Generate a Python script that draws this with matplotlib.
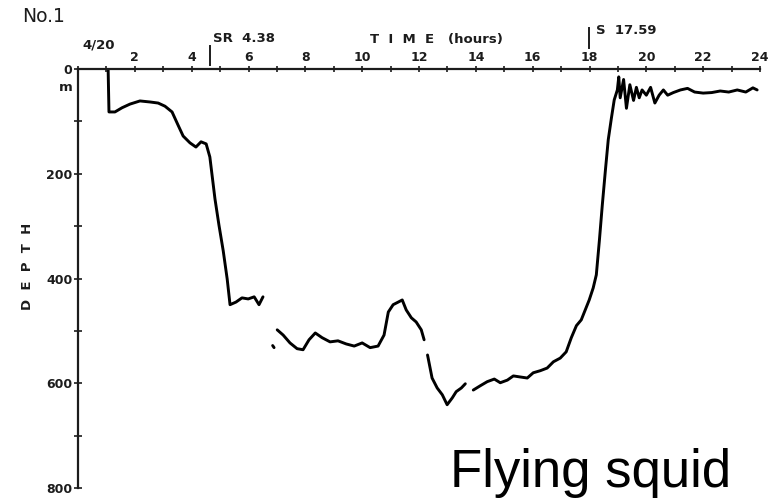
import numpy as np
import matplotlib
matplotlib.use("Agg")
import matplotlib.pyplot as plt

# Depth record of tag No.1 over one day (hours from midnight, depth in metres).
# NaN entries separate stretches where the trace was not recorded.
hours = [
    1.06, 1.09, 1.30, 1.55, 1.83, 2.18, 2.54, 2.82, 3.06, 3.31,
    3.52, 3.70, 3.94, 4.15, 4.33, 4.51, 4.64, 4.82, 4.96, 5.11,
    5.25, 5.35, 5.56, 5.77, 5.99, 6.20, 6.37, 6.51,
    np.nan,
    6.85, 6.90,
    np.nan,
    7.01, 7.22, 7.46, 7.71, 7.92, 8.13, 8.35, 8.59, 8.87, 9.15,
    9.44, 9.72, 10.00, 10.28, 10.56, 10.77, 10.92, 11.09, 11.27, 11.41,
    11.55, 11.73, 11.90, 12.08, 12.18,
    np.nan,
    12.30, 12.46, 12.64, 12.82, 12.99, 13.17, 13.31, 13.49, 13.63,
    np.nan,
    13.91, 14.15, 14.40, 14.65, 14.86, 15.11, 15.32, 15.56, 15.81, 16.02,
    16.27, 16.51, 16.73, 16.97, 17.18, 17.36, 17.54, 17.71, 17.85, 17.99,
    18.13, 18.24, 18.35, 18.45, 18.56, 18.66, 18.77, 18.87, 18.98,
    19.03, 19.08, 19.20, 19.30, 19.42, 19.55, 19.65, 19.75, 19.85, 20.00,
    20.15, 20.30, 20.45, 20.60, 20.75, 20.95, 21.20, 21.45, 21.70, 22.00,
    22.30, 22.60, 22.90, 23.20, 23.50, 23.75, 23.90,
]
depth = [
    0, 82, 82, 74, 67, 61, 63, 65, 71, 82,
    107, 128, 141, 149, 139, 143, 168, 248, 298, 347,
    401, 450, 445, 437, 439, 435, 450, 435,
    np.nan,
    528, 532,
    np.nan,
    498, 508, 523, 534, 536, 517, 504, 513, 521, 519,
    525, 529, 523, 532, 529, 508, 464, 450, 445, 441,
    460, 475, 483, 498, 517,
    np.nan,
    546, 590, 609, 622, 641, 628, 616, 609, 601,
    np.nan,
    613, 605, 597, 592, 599, 594, 586, 588, 590, 580,
    576, 571, 559, 552, 540, 513, 490, 479, 460, 441,
    418, 393, 326, 260, 193, 135, 94, 59, 40,
    15, 55, 20, 75, 30, 60, 35, 55, 40, 50,
    35, 65, 50, 40, 50, 45, 40, 37, 44, 46,
    45, 42, 44, 40, 44, 36, 40,
]

hour_ticks = list(range(0, 25))
hour_labels = [str(h) if (h % 2 == 0 and h > 0) else "" for h in hour_ticks]
depth_major = [0, 200, 400, 600, 800]
depth_labels = ["0", "200", "400", "600", "800"]
depth_minor = [100, 300, 500, 700]

sunrise = 4 + 38 / 60
sunset = 17 + 59 / 60

W, H = 777, 499
fig = plt.figure(figsize=(W / 100, H / 100), dpi=100)
fig.patch.set_facecolor("white")

def fx(px):
    return px / W

def fy(py):
    return 1 - py / H

ax = fig.add_axes([fx(78), fy(488), fx(760) - fx(78), fy(69) - fy(488)])
ax.set_xlim(0, 24)
ax.set_ylim(800, 0)

ink = "#1c1c1c"
ax.plot(hours, depth, color="black", lw=2.1, solid_joinstyle="round",
        solid_capstyle="round")

for s in ("right", "bottom"):
    ax.spines[s].set_visible(False)
for s in ("left", "top"):
    ax.spines[s].set_color(ink)
    ax.spines[s].set_linewidth(1.6)

ax.xaxis.tick_top()
ax.set_xticks(hour_ticks)
ax.set_xticklabels(hour_labels)
ax.tick_params(axis="x", direction="inout", length=5, width=1.2, pad=1,
               labelsize=9, colors=ink)

ax.set_yticks(depth_major)
ax.set_yticklabels(depth_labels)
ax.set_yticks(depth_minor, minor=True)
ax.tick_params(axis="y", which="both", direction="inout", length=6, width=1.2,
               pad=1, labelsize=9, colors=ink)
for lbl in ax.get_xticklabels() + ax.get_yticklabels():
    lbl.set_fontweight("bold")

# sunrise / sunset markers above the time axis
ax.plot([sunrise, sunrise], [-44, -8], color=ink, lw=1.4, clip_on=False)
ax.plot([sunset, sunset], [-78, -40], color=ink, lw=1.4, clip_on=False)

txt = dict(color=ink, fontweight="bold", fontsize=9.5, va="center")
fig.text(fx(213), fy(38), "SR  4.38", ha="left", **txt)
fig.text(fx(596), fy(31), "S  17.59", ha="left", **txt)
fig.text(fx(436), fy(40), "T  I  M  E   (hours)", ha="center", **txt)
fig.text(fx(99), fy(45), "4/20", ha="center", **txt)
fig.text(fx(66), fy(87), "m", ha="center", **txt)
fig.text(fx(22), fy(17), "No.1", ha="left", color=ink, fontsize=13.5,
         va="center")
fig.text(fx(28), fy(266), "D  E  P  T  H", ha="center", va="center",
         rotation=90, color=ink, fontweight="bold", fontsize=9.5)

fig.text(fx(450), fy(487), "Flying squid", family="Liberation Sans",
         fontsize=38, color="black", ha="left", va="baseline")

fig.savefig("out.png", dpi=100, facecolor="white")
